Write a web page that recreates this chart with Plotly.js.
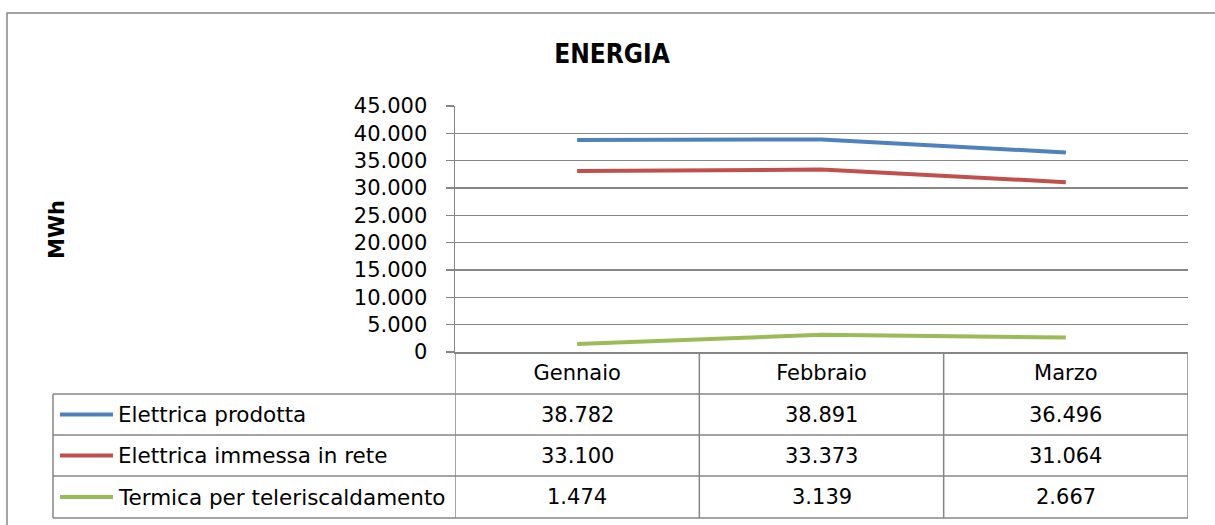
<!DOCTYPE html>
<html>
<head>
<meta charset="utf-8">
<script src="https://cdn.plot.ly/plotly-3.0.1.min.js"></script>
<style>html,body{margin:0;padding:0;background:#fff;}#chart{width:1215px;height:525px;}</style>
</head>
<body>
<div id="chart"></div>
<script>
const months = ["Gennaio", "Febbraio", "Marzo"];
const seriesNames = ["Elettrica prodotta", "Elettrica immessa in rete", "Termica per teleriscaldamento"];
const elettricaProdotta = [38782, 38891, 36496];
const elettricaImmessa = [33100, 33373, 31064];
const termica = [1474, 3139, 2667];
const colors = ["#4F81BD", "#C0504D", "#9BBB59"];
const yTicks = [0, 5000, 10000, 15000, 20000, 25000, 30000, 35000, 40000, 45000];

const seriesValues = [elettricaProdotta, elettricaImmessa, termica];
const FONT = "'DejaVu Sans', sans-serif";
const FONT_TITLE = "'DejaVu Sans Condensed', 'DejaVu Sans', sans-serif";
const GRID = "#868686";

function fmt(n) {
  return String(Math.round(n)).replace(/\B(?=(\d{3})+(?!\d))/g, ".");
}

// pixel -> paper helpers (plot area 455..1188 x, 106..352 y)
const L = 455, R = 1188, T = 106, B = 352;
const px = v => (v - L) / (R - L);
const py = v => (B - v) / (B - T);

const traces = seriesValues.map((vals, i) => ({
  type: "scatter",
  mode: "lines",
  x: months,
  y: vals,
  name: seriesNames[i],
  line: {color: colors[i], width: 4},
  showlegend: false,
  hoverinfo: "skip"
}));

const shapes = [];
// outer chart border
shapes.push({type: "rect", xref: "paper", yref: "paper", x0: px(7), x1: px(1300), y0: py(13), y1: py(600),
  line: {color: GRID, width: 1.5}, fillcolor: "rgba(0,0,0,0)", layer: "below"});
// table horizontal lines
[394, 435, 476, 518].forEach(yv => shapes.push({type: "line", xref: "paper", yref: "paper", x0: px(53), x1: 1, y0: py(yv), y1: py(yv), line: {color: GRID, width: 1.5}}));
// table verticals
shapes.push({type: "line", xref: "paper", yref: "paper", x0: px(53), x1: px(53), y0: py(394), y1: py(518), line: {color: GRID, width: 1.5}});
[-0.5, 0.5, 1.5, 2.5].forEach(xv => shapes.push({type: "line", xref: "x", yref: "paper", x0: xv, x1: xv, y0: 0, y1: py(518), line: {color: GRID, width: 1.5}}));
// legend keys
const rowCenters = [414.5, 455.5, 497];
seriesNames.forEach((s, i) => shapes.push({type: "line", xref: "paper", yref: "paper", x0: px(60), x1: px(113), y0: py(rowCenters[i]), y1: py(rowCenters[i]), line: {color: colors[i], width: 4}}));

const annotations = [];
seriesNames.forEach((s, i) => {
  annotations.push({xref: "paper", yref: "paper", x: px(116), y: py(rowCenters[i]), text: s, showarrow: false,
    xanchor: "left", yanchor: "middle", font: {family: FONT, size: 21.5, color: "#000"}});
  seriesValues[i].forEach((v, j) => {
    annotations.push({xref: "x", yref: "paper", x: j, y: py(rowCenters[i]), text: fmt(v), showarrow: false,
      xanchor: "center", yanchor: "middle", font: {family: FONT, size: 21, color: "#000"}});
  });
});
annotations.push({xref: "paper", yref: "paper", x: px(57), y: py(229), text: "<b>MWh</b>", textangle: -90, showarrow: false,
  xanchor: "center", yanchor: "middle", font: {family: FONT, size: 21, color: "#000"}});

const layout = {
  width: 1215, height: 525,
  margin: {l: L, r: 1215 - R, t: T, b: 525 - B, pad: 0},
  paper_bgcolor: "#fff", plot_bgcolor: "#fff",
  separators: ",.",
  font: {family: FONT, size: 21, color: "#000"},
  title: {text: "<b>ENERGIA</b>", x: 612 / 1215, xref: "container", xanchor: "center", y: 1 - 54 / 525, yref: "container", yanchor: "middle",
    font: {family: FONT_TITLE, size: 26, color: "#000"}},
  xaxis: {type: "category", range: [-0.5, 2.5], showgrid: false, zeroline: false, showline: true, linecolor: GRID, linewidth: 1.5,
    ticks: "", ticklabelstandoff: 1, tickfont: {family: FONT, size: 21, color: "#000"}, fixedrange: true},
  yaxis: {range: [0, 45000], tickvals: yTicks, tickformat: ",d", showgrid: true, gridcolor: GRID, gridwidth: 1.5,
    zeroline: false, showline: true, linecolor: GRID, linewidth: 1.5, ticks: "outside", ticklen: 8, tickcolor: GRID, tickwidth: 1.5,
    ticklabelstandoff: 14, tickfont: {family: FONT, size: 21, color: "#000"}, fixedrange: true},
  shapes: shapes,
  annotations: annotations,
  showlegend: false
};

Plotly.newPlot("chart", traces, layout, {displayModeBar: false, staticPlot: true});
</script>
</body>
</html>
